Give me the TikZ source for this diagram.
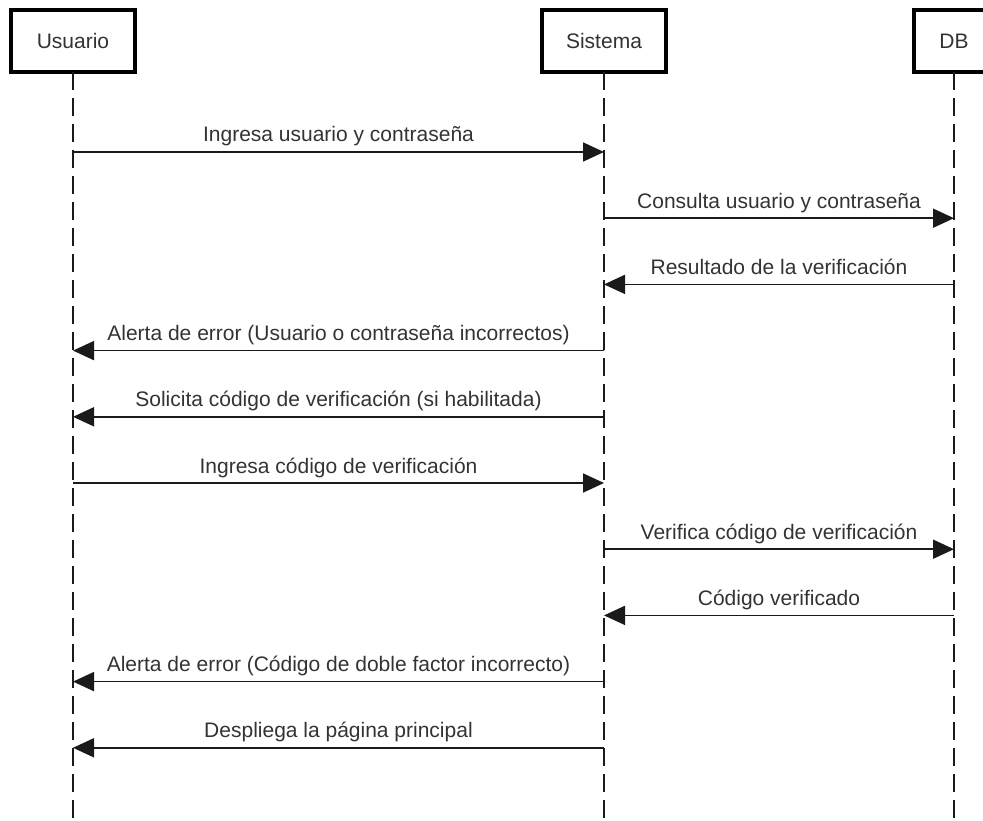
\documentclass[tikz,border=0pt]{standalone}
\usepackage{fontspec}
\setmainfont{Liberation Sans}
\usetikzlibrary{arrows.meta}
\definecolor{txt}{HTML}{333333}
\definecolor{ln}{HTML}{1A1A1A}
\tikzset{
  actor/.style={draw=black, line width=3.5pt, fill=white, minimum height=62pt,
    inner sep=0pt, outer sep=0pt, font=\fontsize{21}{25}\selectfont, text=txt},
  lifeline/.style={line width=1.75pt, draw=ln, dash pattern=on 18pt off 8pt},
  msg/.style={line width=1.75pt, draw=ln, -{Triangle[length=21pt,width=19pt]}},
  lbl/.style={font=\fontsize{21}{25}\selectfont, text=txt, anchor=base, inner sep=0pt, yshift=10pt}
}
\begin{document}
\begin{tikzpicture}[x=1pt,y=-1pt]
\useasboundingbox (0,0) rectangle (983,821);
% lifeline bottoms
\coordinate (uEnd) at (73,830);
\coordinate (sEnd) at (604,830);
\coordinate (dEnd) at (954,830);
% actors
\node[actor, minimum width=124pt] (U) at (73,41) {Usuario};
\node[actor, minimum width=124pt] (S) at (604,41) {Sistema};
\node[actor, minimum width=80pt] (D) at (954,41) {DB};
\draw[lifeline] (U.south) -- (uEnd);
\draw[lifeline] (S.south) -- (sEnd);
\draw[lifeline] (D.south) -- (dEnd);
% message anchor points
\foreach \i/\y in {1/152,2/218.2,3/284.4,4/350.6,5/416.8,6/483,7/549.2,8/615.4,9/681.6,10/747.8}{
  \coordinate (u\i) at (73,\y);
  \coordinate (s\i) at (604,\y);
  \coordinate (d\i) at (954,\y);
}
\draw[msg] (u1) -- node[lbl] {Ingresa usuario y contraseña} (s1);
\draw[msg] (s2) -- node[lbl] {Consulta usuario y contraseña} (d2);
\draw[msg] (d3) -- node[lbl] {Resultado de la verificación} (s3);
\draw[msg] (s4) -- node[lbl] {Alerta de error (Usuario o contraseña incorrectos)} (u4);
\draw[msg] (s5) -- node[lbl] {Solicita código de verificación (si habilitada)} (u5);
\draw[msg] (u6) -- node[lbl] {Ingresa código de verificación} (s6);
\draw[msg] (s7) -- node[lbl] {Verifica código de verificación} (d7);
\draw[msg] (d8) -- node[lbl] {Código verificado} (s8);
\draw[msg] (s9) -- node[lbl] {Alerta de error (Código de doble factor incorrecto)} (u9);
\draw[msg] (s10) -- node[lbl] {Despliega la página principal} (u10);
\end{tikzpicture}
\end{document}
